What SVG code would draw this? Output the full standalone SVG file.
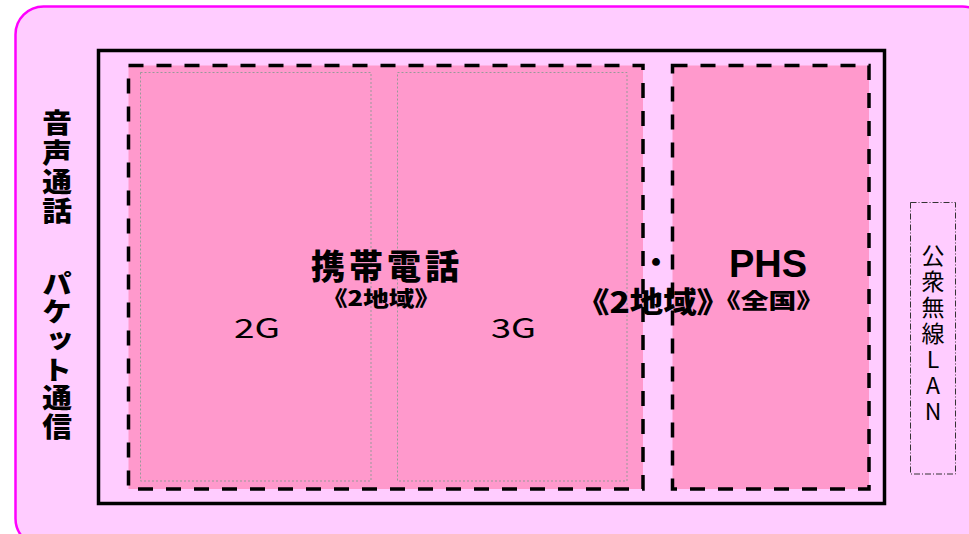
<svg xmlns="http://www.w3.org/2000/svg" width="969" height="534" viewBox="0 0 969 534">
<style>
.bg{fill:#FFCCFF;stroke:#FF00FF;stroke-width:2.5}
.frame{fill:none;stroke:#000;stroke-width:3.5}
.zone{fill:#FF99CC;stroke:#000;stroke-width:3.5;stroke-dasharray:15 13}
.gen{fill:none;stroke:#999;stroke-width:1;stroke-dasharray:2 2}
.wlan{fill:none;stroke:#333;stroke-width:1;stroke-dasharray:6 2 1 2}
.jb{font-family:"Noto Sans CJK JP","Noto Sans",sans-serif;font-weight:900;fill:#000}
.jr{font-family:"Noto Sans CJK JP","Noto Sans",sans-serif;font-weight:400;fill:#000}
.lb{font-family:"Liberation Sans",Arial,sans-serif;font-weight:700;fill:#000}
.vt{writing-mode:vertical-rl;text-orientation:upright}
</style>
<rect class="bg" x="15.5" y="6.5" width="975" height="540" rx="28" ry="28"/>
<g id="frame"><rect class="frame" x="98.5" y="50.5" width="786" height="453"/></g>
<g id="cellular">
<rect class="zone" x="128.5" y="65.5" width="514.5" height="423.5"/>
</g>
<g id="phs">
<rect class="zone" x="672.5" y="65.5" width="196.5" height="423.5"/>
</g>
<g id="g2">
<rect class="gen" x="140.5" y="72.5" width="230.5" height="408.5"/>
<text class="jr" x="234" y="338" font-size="27" textLength="46" lengthAdjust="spacingAndGlyphs">2G</text>
</g>
<g id="g3">
<rect class="gen" x="397.5" y="72.5" width="229.5" height="408.5"/>
<text class="jr" x="491" y="338" font-size="27" textLength="45" lengthAdjust="spacingAndGlyphs">3G</text>
</g>
<g id="labels">
<text class="jb" x="311" y="279" font-size="34" textLength="148">携帯電話</text>
<text class="jb" x="322" y="306" font-size="21" textLength="118" lengthAdjust="spacingAndGlyphs">《2地域》</text>
<text class="jb" x="656" y="273" font-size="28" text-anchor="middle">・</text>
<text class="lb" x="729" y="277" font-size="38">PHS</text>
<text class="jb" x="576" y="313" font-size="29" textLength="154" lengthAdjust="spacingAndGlyphs">《2地域》</text>
<text class="jb" x="713" y="308" font-size="21" textLength="111" lengthAdjust="spacingAndGlyphs">《全国》</text>
</g>
<g id="voice-packet" transform="translate(57,0) scale(1.1,1)">
<text class="jb vt" x="0" y="109.5" font-size="27" letter-spacing="2.3">音声通話</text>
<text class="jb vt" x="0" y="270" font-size="27" letter-spacing="1.6">パケット通信</text>
</g>
<g id="public-wlan">
<rect class="wlan" x="910.5" y="202.5" width="45" height="271.5"/>
<text class="jr vt" x="933" y="244" font-size="23" letter-spacing="3">公衆無線LAN</text>
</g>
</svg>
